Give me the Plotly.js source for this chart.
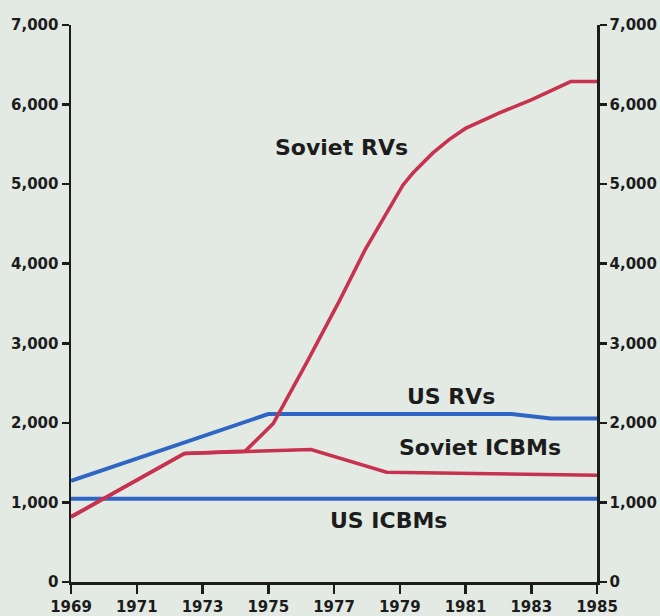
<!DOCTYPE html>
<html>
<head>
<meta charset="utf-8">
<script src="https://cdn.plot.ly/plotly-3.0.1.min.js"></script>
<style>
  html, body { margin: 0; padding: 0; background: #e3eae3; }
  #chart { width: 660px; height: 616px; }
</style>
</head>
<body>
<div id="chart"></div>
<script>
// ---- data ----
const usIcbmYears = [1969, 1985];
const usIcbm = [1045, 1045];

const usRvYears = [1969, 1975, 1982.4, 1983.6, 1985];
const usRv = [1270, 2110, 2110, 2055, 2055];

const sovIcbmYears = [1969, 1972.45, 1976.3, 1978.6, 1985];
const sovIcbm = [818, 1615, 1665, 1380, 1342];

const sovRvYears = [1969, 1972.45, 1974.3, 1975.15, 1976.16, 1977.18, 1977.94, 1978.5, 1978.8, 1979.1, 1979.4, 1979.7, 1980.0, 1980.5, 1981.0, 1982.0, 1983.0, 1984.2, 1985];
const sovRv = [818, 1615, 1645, 1990, 2750, 3545, 4170, 4570, 4790, 4990, 5140, 5270, 5390, 5560, 5700, 5890, 6060, 6290, 6290];

const xTickYears = [1969, 1971, 1973, 1975, 1977, 1979, 1981, 1983, 1985];
const yTickVals = [0, 1000, 2000, 3000, 4000, 5000, 6000, 7000];
const yTickText = ['0', '1,000', '2,000', '3,000', '4,000', '5,000', '6,000', '7,000'];

const seriesLabels = ['Soviet RVs', 'US RVs', 'Soviet ICBMs', 'US ICBMs'];

// ---- styles ----
const RED = '#c6324f';
const BLUE = '#2f66c4';
const BG = '#e3eae3';
const INK = '#1c1c1c';
const tickFont = { family: 'DejaVu Sans', size: 15, color: INK, weight: 700 };
const labelFont = { family: 'DejaVu Sans', size: 22, color: INK, weight: 700 };

const traces = [
  { x: usIcbmYears, y: usIcbm, mode: 'lines', line: { color: BLUE, width: 4 }, hoverinfo: 'skip' },
  { x: usRvYears, y: usRv, mode: 'lines', line: { color: BLUE, width: 4 }, hoverinfo: 'skip' },
  { x: sovIcbmYears, y: sovIcbm, mode: 'lines', line: { color: RED, width: 3.6 }, hoverinfo: 'skip' },
  { x: sovRvYears, y: sovRv, mode: 'lines', line: { color: RED, width: 3.6 }, hoverinfo: 'skip' },
  // carrier for the right-hand axis (same scale)
  { x: usIcbmYears, y: usIcbm, yaxis: 'y2', mode: 'lines', line: { color: 'rgba(0,0,0,0)', width: 0 }, hoverinfo: 'skip' }
];

const axisCommon = {
  showgrid: false, zeroline: false, showline: true,
  linecolor: INK, linewidth: 2.5,
  ticks: 'outside', tickcolor: INK, tickwidth: 2.5,
  tickfont: tickFont, fixedrange: true
};

const layout = {
  width: 660, height: 616,
  margin: { l: 71, r: 63, t: 25, b: 34 },
  paper_bgcolor: BG, plot_bgcolor: BG,
  showlegend: false,
  xaxis: Object.assign({}, axisCommon, {
    range: [1969, 1985], tickmode: 'array', tickvals: xTickYears,
    ticktext: xTickYears.map(String), ticklen: 9
  }),
  yaxis: Object.assign({}, axisCommon, {
    range: [0, 7000], tickmode: 'array', tickvals: yTickVals, ticktext: yTickText,
    ticklen: 7, side: 'left'
  }),
  yaxis2: Object.assign({}, axisCommon, {
    range: [0, 7000], tickmode: 'array', tickvals: yTickVals, ticktext: yTickText,
    ticklen: 7, side: 'right', overlaying: 'y'
  }),
  annotations: [
    { text: seriesLabels[0], x: 1977.23, y: 5466 },
    { text: seriesLabels[1], x: 1980.56, y: 2335 },
    { text: seriesLabels[2], x: 1981.44, y: 1694 },
    { text: seriesLabels[3], x: 1978.67, y: 776 }
  ].map(a => Object.assign(a, {
    xref: 'x', yref: 'y', showarrow: false, font: labelFont,
    xanchor: 'center', yanchor: 'middle'
  }))
};

Plotly.newPlot('chart', traces, layout, { displayModeBar: false, staticPlot: true });
</script>
</body>
</html>
